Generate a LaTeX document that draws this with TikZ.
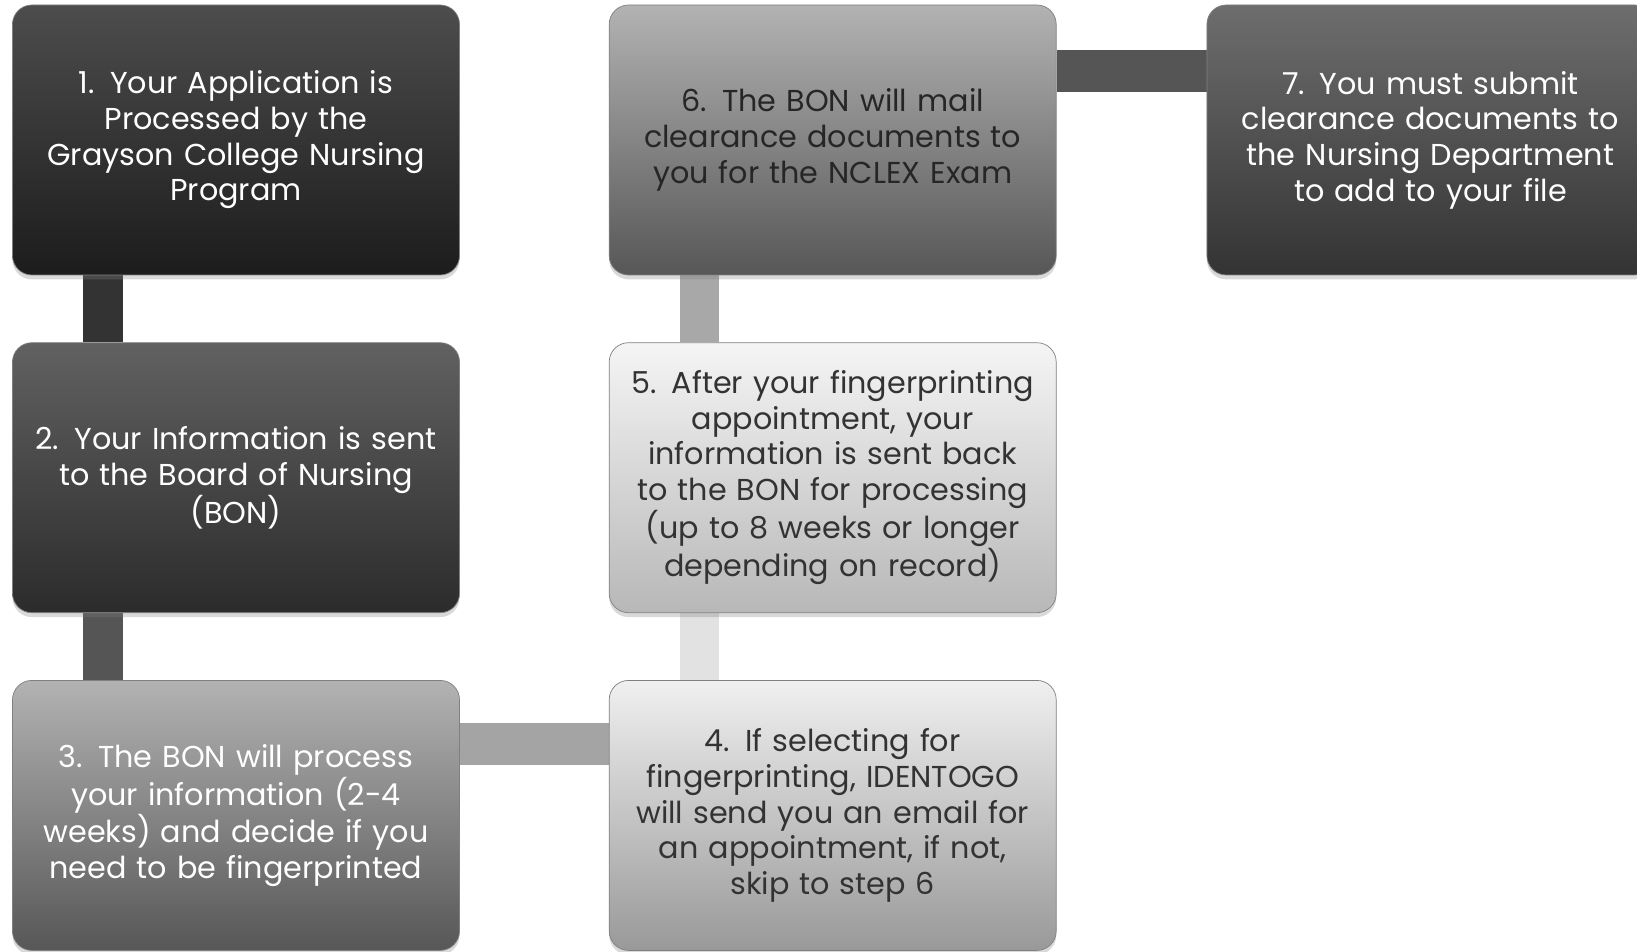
\documentclass[tikz,border=0pt]{standalone}
\usepackage{fontspec}
\setmainfont{Poppins}
\usepackage{xcolor}
\usetikzlibrary{positioning,shadows,backgrounds}
\definecolor{barA}{HTML}{333333}
\definecolor{barB}{HTML}{555555}
\definecolor{barC}{HTML}{A4A4A4}
\definecolor{barD}{HTML}{E2E2E2}
\definecolor{barE}{HTML}{A8A8A8}
\definecolor{barF}{HTML}{555555}
\tikzset{
  basic/.style  = {draw=black!50, thin, rectangle, rounded corners=11pt,
                   minimum width=8.94cm, minimum height=5.4cm,
                   text width=8.6cm, align=center, inner sep=0pt,
                   font=\fontsize{17.2}{20.3}\selectfont,
                   drop shadow={shadow xshift=0pt, shadow yshift=-2.5pt,
                                opacity=0.3}},
  step one/.style   = {basic, top color=black!70, bottom color=black!89, text=white},
  step two/.style   = {basic, top color=black!62, bottom color=black!83, text=white},
  step three/.style = {basic, top color=black!30, bottom color=black!66, text=white},
  step four/.style  = {basic, top color=black!6, bottom color=black!40, text=black!80},
  step five/.style  = {basic, top color=black!4, bottom color=black!28, text=black!80},
  step six/.style   = {basic, top color=black!30, bottom color=black!66, text=black!85},
  step seven/.style = {basic, top color=black!57, bottom color=black!80, text=white},
  bar/.style = {draw=none}
}

\begin{document}
\begin{tikzpicture}
  \useasboundingbox (0,0) rectangle (32.74,19.02);

  % boxes
  \node[step one] (s1) at (4.72,16.22)
    {1. Your Application is\\ Processed by the\\ Grayson College Nursing\\ Program};
  \node[step two, below=1.34cm of s1] (s2)
    {2. Your Information is sent\\ to the Board of Nursing\\ (BON)};
  \node[step three, below=1.34cm of s2] (s3)
    {3. The BON will process\\ your information (2-4\\ weeks) and decide if you\\ need to be fingerprinted};
  \node[step four, right=2.98cm of s3] (s4)
    {4. If selecting for\\ fingerprinting, IDENTOGO\\ will send you an email for\\ an appointment, if not,\\ skip to step 6};
  \node[step five, above=1.34cm of s4] (s5)
    {5. After your fingerprinting\\ appointment, your\\ information is sent back\\ to the BON for processing\\ (up to 8 weeks or longer\\ depending on record)};
  \node[step six, above=1.34cm of s5] (s6)
    {6. The BON will mail\\ clearance documents to\\ you for the NCLEX Exam};
  \node[step seven, right=3cm of s6] (s7)
    {7. You must submit\\ clearance documents to\\ the Nursing Department\\ to add to your file};

  % connectors
  \begin{scope}[on background layer]
    \fill[bar, barA] ([xshift=1.42cm]s1.south west) rectangle ([xshift=2.22cm]s2.north west);
    \fill[bar, barB] ([xshift=1.42cm]s2.south west) rectangle ([xshift=2.22cm]s3.north west);
    \fill[bar, barC] ([yshift=-0.86cm]s3.north east) rectangle ([yshift=-1.7cm]s4.north west);
    \fill[bar, barD] ([xshift=1.42cm]s4.north west) rectangle ([xshift=2.2cm]s5.south west);
    \fill[bar, barE] ([xshift=1.42cm]s5.north west) rectangle ([xshift=2.2cm]s6.south west);
    \fill[bar, barF] ([yshift=-0.9cm]s6.north east) rectangle ([yshift=-1.74cm]s7.north west);
  \end{scope}
\end{tikzpicture}
\end{document}
